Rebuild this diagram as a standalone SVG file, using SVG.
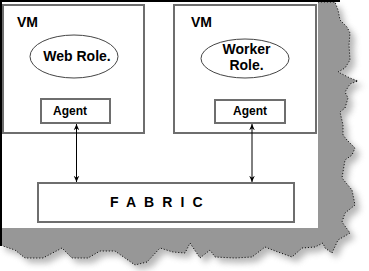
<svg xmlns="http://www.w3.org/2000/svg" width="369" height="271" viewBox="0 0 369 271">
<defs>
<style>
.box{fill:#fff;stroke:#6e6e6e;stroke-width:2}
.ell{fill:#fff;stroke:#444;stroke-width:1}
.t{font-family:"Liberation Sans",Arial,sans-serif;font-weight:bold;fill:#000}
.conn{stroke:#000;stroke-width:1;fill:none;marker-start:url(#ah);marker-end:url(#ah)}
</style>
<marker id="ah" viewBox="0 0 10 10" refX="9" refY="5" markerWidth="7" markerHeight="7" orient="auto-start-reverse" markerUnits="userSpaceOnUse">
<path d="M0,1 L9,5 L0,9 L3,5 Z" fill="#000"/>
</marker>
<filter id="blur" x="-10%" y="-10%" width="120%" height="120%"><feGaussianBlur stdDeviation="3"/></filter>
</defs>
<rect width="369" height="271" fill="#fff"/>
<g id="page">
<polygon id="tornshadow" points="0,0 335,2 338,10 340,20 347,27 350,33 349,45 350,60 345,68 338,72 350,78 358,81 350,84 345,92 348,98 345,108 340,112 343,125 343,135 347,140 355,148 352,155 345,160 342,178 352,190 355,205 345,213 342,222 350,233 338,240 332,253 325,248 323,243 315,247 302,248 292,257 278,252 265,247 252,257 235,258 215,257 210,250 200,258 190,243 185,253 173,252 160,248 147,262 135,265 115,251 100,251 88,258 72,258 62,248 43,258 25,258 15,250 0,245" fill="#888" opacity="0.6" filter="url(#blur)" transform="translate(5,5)"/>
<polygon id="torn" points="0,0 335,2 338,10 340,20 347,27 350,33 349,45 350,60 345,68 338,72 350,78 358,81 350,84 345,92 348,98 345,108 340,112 343,125 343,135 347,140 355,148 352,155 345,160 342,178 352,190 355,205 345,213 342,222 350,233 338,240 332,253 325,248 323,243 315,247 302,248 292,257 278,252 265,247 252,257 235,258 215,257 210,250 200,258 190,243 185,253 173,252 160,248 147,262 135,265 115,251 100,251 88,258 72,258 62,248 43,258 25,258 15,250 0,245" fill="#979797" stroke="#000" stroke-width="1" stroke-dasharray="1,2"/>
<rect x="0" y="0" width="318" height="228" fill="#fff"/>
<line x1="0" y1="1" x2="340" y2="1" stroke="#000" stroke-width="2"/>
<line x1="1" y1="0" x2="1" y2="246" stroke="#000" stroke-width="2"/>
</g>
<g id="vm1">
<rect class="box" x="3" y="5" width="141" height="128"/>
<text class="t" x="17" y="27" font-size="14">VM</text>
</g>
<g id="vm2">
<rect class="box" x="174" y="5" width="142" height="128"/>
<text class="t" x="191" y="27" font-size="14">VM</text>
</g>
<g id="webrole">
<ellipse class="ell" cx="74" cy="56.5" rx="44" ry="21.5"/>
<text class="t" x="77" y="61" font-size="14" text-anchor="middle">Web Role.</text>
</g>
<g id="workerrole">
<ellipse class="ell" cx="245" cy="58.5" rx="44" ry="19.5"/>
<text class="t" x="246.5" y="54" font-size="14" text-anchor="middle">Worker</text>
<text class="t" x="246.5" y="70" font-size="14" text-anchor="middle">Role.</text>
</g>
<g id="agent1">
<rect class="box" x="41" y="99" width="69" height="24"/>
<text class="t" x="70" y="115" font-size="12" text-anchor="middle">Agent</text>
</g>
<g id="agent2">
<rect class="box" x="215" y="100" width="70" height="23"/>
<text class="t" x="250" y="115" font-size="12" text-anchor="middle">Agent</text>
</g>
<g id="fabric">
<rect class="box" x="38" y="183" width="256" height="39"/>
<text class="t" x="110" y="206.5" font-size="14" letter-spacing="8.1">FABRIC</text>
</g>
<g id="connectors">
<line class="conn" x1="76.5" y1="124" x2="76.5" y2="182"/>
<line class="conn" x1="252" y1="124" x2="252" y2="182"/>
</g>
</svg>
